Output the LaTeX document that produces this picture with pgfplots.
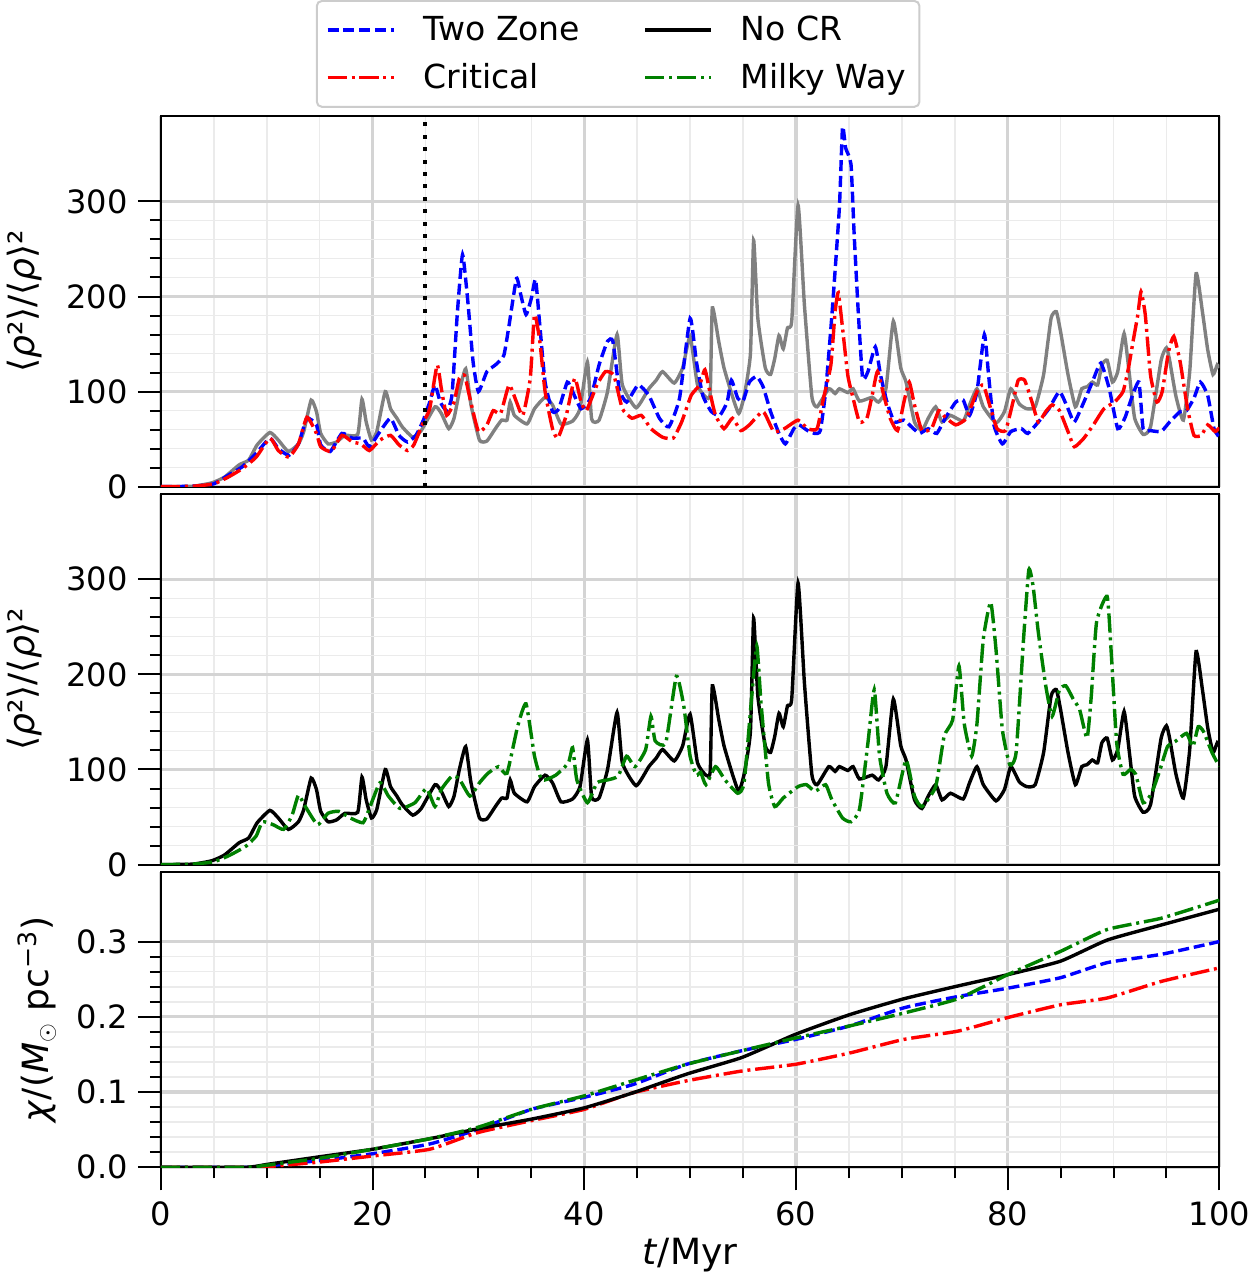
\documentclass[border=0pt]{standalone}
\usepackage{fontspec}
\setmainfont{DejaVu Sans}
\usepackage{pgfplots}
\pgfplotsset{compat=1.18}
\usetikzlibrary{calc}

% No CR run: used in both density panels
\pgfplotstableread{
x y
0 0
3 0.5
4.8 4
6.0 10
7.4 23
8.3 28
9.1 44
10.3 57
11.1 49
12.05 37
13.0 45
13.5 58
14.2 91
14.7 79
15.1 56
15.8 45
16.6 47
17.4 54
18.6 55
19.0 92
19.4 68
19.9 49
20.4 58
21.2 100
21.7 82
22.3 72
22.8 63
23.8 52
24.6 59
25.9 84
26.5 77
27.2 61
27.7 72
28.2 100
28.8 124
29.3 86
30.1 49
30.8 48
31.6 61
32.2 70
32.7 70
33.0 89
33.4 75
34.6 66
35.3 82
36.3 94
37.0 86
37.8 66
38.9 69
39.6 82
40.3 131
40.7 71
41.4 70
42.2 100
43.1 160
43.6 107
44.9 83
46.1 103
46.8 112
47.4 121
48.5 109
49.3 125
50.0 158
50.7 107
51.5 94
51.9 98
52.1 188
52.7 153
53.2 125
54.0 95
54.6 77
55.1 95
55.7 140
56.0 259
56.4 177
57.1 125
57.6 118
58.0 135
58.4 159
58.8 145
59.2 167
59.6 174
60.2 296
60.8 191
61.5 95
62.0 84
63.1 103
63.7 98
64.1 103
64.9 99
65.4 103
66.0 90
67.2 94
67.8 89
68.5 103
69.2 174
69.9 125
70.4 110
71.2 68
71.9 59
72.5 72
73.2 84
73.8 68
74.6 75
75.8 69
76.4 86
77.1 103
77.7 84
78.9 67
79.7 79
80.3 103
81.1 87
81.8 82
82.6 84
83.4 118
84.1 177
84.6 184
85.0 163
85.7 118
86.4 84
87.0 103
87.5 105
88.0 110
88.5 107
88.9 128
89.4 133
89.9 110
90.4 121
91.0 161
91.5 118
92.0 72
92.8 55
93.5 63
94.5 133
95.0 146
95.3 133
95.9 95
96.6 70
97.2 121
97.8 224
98.4 184
98.9 144
99.4 118
99.8 128
100 125
}\nocr

\pgfplotstableread{
x y
0 0
3 0.5
5 3
6.35 12
7.7 21
9.0 35
10.3 51
11.1 40
12.1 33
13.0 45
13.8 72
14.7 65
15.1 44
16.0 37
17.1 56
18.1 51
19.1 51
19.7 42
20.7 58
21.7 72
22.5 54
23.3 47
24.1 54
24.8 70
25.4 89
25.9 107
26.4 89
27.0 80
27.5 96
28.0 181
28.5 244
29.0 195
29.5 131
30.0 100
30.8 121
31.6 128
32.4 138
32.9 170
33.6 219
34.0 202
34.5 181
35.0 198
35.4 218
35.8 170
36.3 110
37.0 79
37.6 82
38.4 110
38.9 100
39.7 82
40.6 93
41.4 128
42.2 153
42.7 153
43.3 103
44.0 89
45.1 107
46.1 96
47.1 72
48.0 63
49.0 93
50.0 177
50.6 131
51.2 96
52.0 79
52.8 75
53.5 89
53.9 112
54.5 93
55.0 90
55.6 110
56.3 116
56.9 105
57.6 79
58.4 56
59.0 45
59.8 61
60.3 65
61.1 59
61.8 56
62.3 59
62.8 100
63.4 181
64.1 293
64.4 378
64.7 356
65.2 339
65.5 265
65.9 181
66.3 114
66.8 121
67.5 147
68.0 117
68.6 89
69.3 68
70.2 70
71.1 61
71.7 56
72.5 61
73.3 56
74.1 72
75.1 89
75.8 91
76.4 75
77.1 100
77.8 160
78.2 117
78.7 65
79.5 45
80.3 58
81.3 61
81.9 56
82.9 68
83.9 82
84.9 100
85.7 82
86.3 68
87.2 89
88.0 110
88.8 130
89.6 103
90.4 61
91.1 73
91.7 93
92.4 110
92.8 61
93.5 59
94.5 58
95.3 68
96.3 79
96.9 80
97.6 93
98.2 110
98.9 96
99.5 61
100 52
}\twozone

\pgfplotstableread{
x y
0 0
3 0.5
5 3
6.35 10
7.7 19
9.0 31
10.3 51
11.1 38
12.1 31
13.0 45
13.8 73
14.7 56
15.1 42
16.1 37
17.1 54
18.1 47
18.9 45
19.7 38
20.7 49
21.7 54
22.5 44
23.3 38
23.9 44
24.8 68
25.4 82
26.1 128
26.5 103
27.0 75
27.7 89
28.2 114
28.7 117
29.2 93
30.0 58
30.8 65
31.4 80
32.1 77
32.9 107
33.6 89
34.2 75
34.9 114
35.3 181
35.8 153
36.3 100
37.0 61
37.5 51
38.3 75
39.1 114
39.7 89
40.2 80
41.2 107
42.0 121
42.8 117
43.6 82
44.5 72
45.4 75
46.3 61
47.4 52
48.4 51
49.2 68
50.1 96
50.9 107
51.4 123
51.9 98
52.4 75
53.2 61
54.0 72
54.8 59
55.6 65
56.9 79
57.9 58
58.9 61
60.2 70
61.1 61
62.0 61
62.6 93
63.3 128
63.7 184
64.0 204
64.4 167
64.9 117
65.4 93
66.0 68
66.7 72
67.2 96
67.7 121
68.3 96
68.9 72
69.6 59
70.2 89
70.7 110
71.2 86
71.9 59
72.8 61
73.5 80
74.1 73
75.1 65
76.1 72
77.1 100
77.7 107
78.4 82
79.0 61
79.8 59
80.5 89
81.0 112
81.6 112
82.3 89
82.9 68
83.6 79
84.2 86
84.9 80
85.7 58
86.3 42
87.2 51
88.1 65
89.1 82
90.1 89
90.9 100
91.4 124
91.9 156
92.3 181
92.6 205
93.0 181
93.5 117
94.1 89
94.6 100
95.2 142
95.7 158
96.3 131
97.0 82
97.6 54
98.3 54
98.9 65
99.6 58
100 62
}\critical

\pgfplotstableread{
x y
0 0
3 0.5
5 3
6.35 9
8.0 19
9.0 30
9.6 45
10.6 42
11.6 37
12.4 52
13.0 73
13.6 62
14.8 42
15.8 54
16.8 56
17.9 49
19.1 44
19.7 59
20.7 86
21.5 72
22.6 59
24.0 65
25.1 80
25.9 61
26.5 79
27.5 93
28.2 90
29.2 72
30.1 86
30.9 96
31.9 103
32.7 96
33.7 145
34.5 169
35.3 114
36.0 89
37.3 94
38.5 107
38.9 123
39.3 89
40.3 65
41.2 86
42.2 89
43.2 93
44.0 114
44.8 103
45.8 121
46.3 156
46.7 130
47.7 128
48.7 198
49.4 167
50.0 114
50.6 94
51.0 97
51.5 84
52.4 103
53.3 89
54.5 75
55.1 86
55.8 174
56.3 230
56.7 170
57.4 86
58.0 61
58.8 70
60.2 82
61.0 84
61.8 77
62.8 84
63.4 68
64.4 49
65.2 45
66.0 58
66.8 128
67.4 184
67.9 114
68.6 75
69.4 65
70.4 110
71.2 72
71.9 61
73.2 82
74.0 135
74.8 152
75.4 209
75.9 148
76.6 114
77.1 148
77.7 237
78.4 276
78.9 226
79.5 142
80.2 105
80.8 118
81.5 237
82.0 310
82.4 293
82.9 244
83.6 188
84.2 156
84.9 184
85.5 188
86.2 174
86.8 163
87.5 133
87.9 177
88.4 255
89.4 282
89.8 220
90.3 128
90.9 95
91.6 100
92.1 95
92.8 65
93.6 75
94.4 100
95.1 124
95.9 130
96.9 138
97.5 124
98.0 145
98.5 140
99.3 118
100 103
}\milkyway

% cumulative chi
\pgfplotstableread{
x twozone critical nocr milkyway
0 0 0 0 0
8 0 0 0 0
10.1 0.002 0.001 0.004 0.003
15 0.009 0.007 0.014 0.012
20 0.018 0.015 0.024 0.024
25.4 0.031 0.024 0.038 0.038
29.9 0.050 0.046 0.051 0.053
35 0.077 0.062 0.064 0.077
40 0.093 0.077 0.079 0.095
44.6 0.110 0.099 0.099 0.115
49.7 0.137 0.115 0.124 0.137
54.9 0.155 0.128 0.146 0.155
60 0.170 0.137 0.177 0.172
65.1 0.188 0.152 0.203 0.188
70.2 0.212 0.170 0.224 0.205
75.3 0.227 0.181 0.241 0.224
80 0.238 0.199 0.256 0.256
85 0.252 0.216 0.274 0.287
89.4 0.272 0.225 0.302 0.316
94.5 0.283 0.247 0.322 0.331
100 0.300 0.265 0.343 0.355
}\chi

\pgfplotsset{
  panel/.style={
    width=528pt, scale only axis,
    xmin=0, xmax=100,
    xtick={0,20,...,100}, minor x tick num=3,
    grid=both,
    major grid style={color=black!17, line width=1.6pt},
    minor grid style={color=black!8, line width=0.8pt},
    axis line style={line width=1pt},
    tick align=outside, xtick pos=bottom, ytick pos=left,
    major tick length=11.5pt, minor tick length=5.5pt,
    every tick/.style={black, line width=1pt},
    tick label style={font=\fontsize{16}{19}\selectfont},
    yticklabel style={xshift=-1.5pt},
    xticklabel style={yshift=-2pt},
    /pgf/number format/assume math mode=true,
    every axis y label/.style={rotate=90, anchor=south, font=\fontsize{18}{21}\selectfont},
    every axis x label/.style={font=\fontsize{18}{21}\selectfont},
  },
  dashedline/.style={line width=1.7pt, dash pattern=on 5.5pt off 2.4pt},
  dashdotline/.style={line width=1.7pt, dash pattern=on 9.6pt off 2.4pt on 1.5pt off 2.4pt},
  solidline/.style={line width=1.7pt},
  wiggle/.style={smooth, tension=0.3},
}

\begin{document}
\begin{tikzpicture}
\begin{axis}[panel, name=top, height=185pt,
  ymin=0, ymax=390, ytick={0,100,200,300}, minor y tick num=4,
  xticklabels={}, xtick style={draw=none},
  ylabel={⟨\textit{ρ}²⟩/⟨\textit{ρ}⟩²},
  ylabel style={at={(axis description cs:-0.106,0.5)}},
  legend columns=2,
  legend cell align=left,
  legend image code/.code={\draw[#1] (0pt,0pt) -- (33pt,0pt);},
  legend style={at={(0.432,1.0216)}, anchor=south, draw=black!20,
    rounded corners=2.5pt, line width=1pt,
    inner xsep=4.5pt, inner ysep=5.5pt,
    font=\fontsize{16.5}{19}\selectfont, row sep=6pt,
    /tikz/column 1/.style={column sep=12pt},
    /tikz/column 2/.style={column sep=29.5pt},
    /tikz/column 3/.style={column sep=12pt}},
]
\addlegendimage{blue, dashedline}
\addlegendentry{Two Zone}
\addlegendimage{black, solidline}
\addlegendentry{No CR}
\addlegendimage{red, dashdotline}
\addlegendentry{Critical}
\addlegendimage{black!50!green, dashdotline}
\addlegendentry{Milky Way}
\addplot[forget plot, black!50, solidline, wiggle] table {\nocr};
\addplot[forget plot, blue, dashedline, wiggle] table {\twozone};
\addplot[forget plot, red, dashdotline, wiggle] table {\critical};
\addplot[forget plot, black, line width=2pt, dash pattern=on 2pt off 4.2pt] coordinates {(25,0) (25,390)};
\end{axis}

\begin{axis}[panel, name=mid, height=185pt,
  at={($(top.south west)+(0,-3.5pt)$)}, anchor=north west,
  ymin=0, ymax=390, ytick={0,100,200,300}, minor y tick num=4,
  xticklabels={}, xtick style={draw=none},
  ylabel={⟨\textit{ρ}²⟩/⟨\textit{ρ}⟩²},
  ylabel style={at={(axis description cs:-0.106,0.5)}},
]
\addplot[black, solidline, wiggle] table {\nocr};
\addplot[black!50!green, dashdotline, wiggle] table {\milkyway};
\end{axis}

\begin{axis}[panel, name=bot, height=147.5pt,
  at={($(mid.south west)+(0,-3.5pt)$)}, anchor=north west,
  ymin=0, ymax=0.393, ytick={0,0.1,0.2,0.3}, minor y tick num=4,
  yticklabel style={/pgf/number format/.cd, fixed, fixed zerofill, precision=1},
  xlabel={\textit{t}/Myr},
  xlabel style={at={(axis description cs:0.5,-0.298)}, anchor=center},
  ylabel={\textit{χ}/(\textit{M}$_\odot$ pc\textsuperscript{−3})},
  ylabel style={at={(axis description cs:-0.092,0.5)}},
]
\addplot[blue, dashedline, wiggle] table[x=x, y=twozone] {\chi};
\addplot[red, dashdotline, wiggle] table[x=x, y=critical] {\chi};
\addplot[black, solidline, wiggle] table[x=x, y=nocr] {\chi};
\addplot[black!50!green, dashdotline, wiggle] table[x=x, y=milkyway] {\chi};
\end{axis}
\end{tikzpicture}
\end{document}
